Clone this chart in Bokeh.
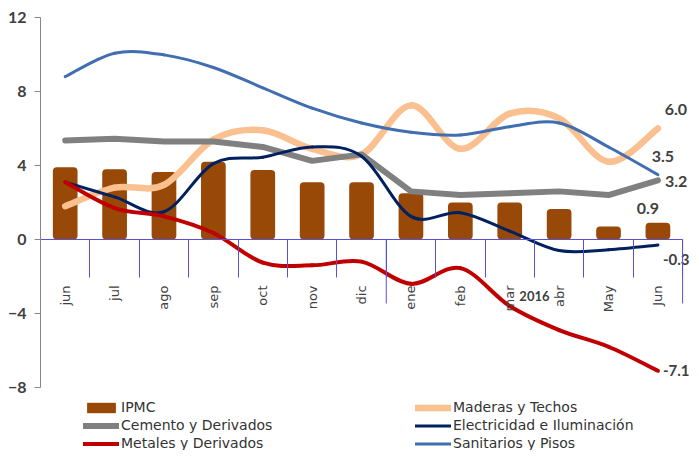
import math
from bokeh.plotting import figure
from bokeh.models import Range1d, FixedTicker, Legend, LegendItem, ColumnDataSource
from bokeh.core.properties import value
from bokeh.embed import file_html
from bokeh.resources import INLINE

# ---------------- data ----------------
months = ["jun", "jul", "ago", "sep", "oct", "nov", "dic",
          "ene", "feb", "mar", "abr", "May", "Jun"]
group_label = "2016"
group_start = 7  # index of "ene", first month of 2016

ipmc = [3.9, 3.8, 3.65, 4.2, 3.75, 3.1, 3.1, 2.5, 2.0, 2.0, 1.65, 0.7, 0.9]
maderas = [1.8, 2.8, 2.95, 5.4, 5.9, 4.9, 4.6, 7.25, 4.9, 6.8, 6.55, 4.2, 6.0]
cemento = [5.35, 5.45, 5.3, 5.3, 5.0, 4.25, 4.6, 2.6, 2.4, 2.5, 2.6, 2.4, 3.2]
electricidad = [3.1, 2.3, 1.5, 4.1, 4.45, 5.0, 4.5, 1.25, 1.45, 0.45, -0.6, -0.55, -0.3]
metales = [3.1, 1.7, 1.25, 0.35, -1.25, -1.4, -1.2, -2.4, -1.55, -3.6, -4.9, -5.8, -7.1]
sanitarios = [8.8, 10.07, 9.98, 9.3, 8.2, 7.1, 6.3, 5.8, 5.65, 6.1, 6.3, 5.0, 3.5]

y_ticks = [-8, -4, 0, 4, 8, 12]

# ---------------- styles ----------------
BAR = "#984807"
C_MAD = "#FAC090"
C_CEM = "#808080"
C_ELE = "#002060"
C_MET = "#C00000"
C_SAN = "#406EB0"
AXIS_BLUE = "#5B50D8"
AXIS_GRAY = "#868686"
TXT = "#404040"

n = len(months)
xs = list(range(n))


def smooth_source(ys):
    """Bezier segments (Excel-like smoothed line) whose control points come from the data."""
    d = dict(x0=[], y0=[], x1=[], y1=[], cx0=[], cy0=[], cx1=[], cy1=[])
    for i in range(n - 1):
        a = max(i - 1, 0)
        b = min(i + 2, n - 1)
        d["x0"].append(xs[i]); d["y0"].append(ys[i])
        d["x1"].append(xs[i + 1]); d["y1"].append(ys[i + 1])
        d["cx0"].append(xs[i] + (xs[i + 1] - xs[a]) / 6.0)
        d["cy0"].append(ys[i] + (ys[i + 1] - ys[a]) / 6.0)
        d["cx1"].append(xs[i + 1] - (xs[b] - xs[i]) / 6.0)
        d["cy1"].append(ys[i + 1] - (ys[b] - ys[i]) / 6.0)
    return ColumnDataSource(d)


p = figure(width=691, height=450, output_backend="svg", toolbar_location=None,
           x_range=Range1d(-0.5, 12.68), y_range=Range1d(-11.41, 12.92),
           min_border_left=40, min_border_right=0, min_border_top=0, min_border_bottom=0,
           outline_line_color=None, background_fill_color="white")
p.grid.visible = False

# bars
r_ipmc = p.vbar(x=xs, top=ipmc, bottom=0, width=0.5, fill_color=BAR, line_color=None,
                border_radius=4)

# smoothed lines
def add_curve(ys, color, w):
    return p.bezier(x0="x0", y0="y0", x1="x1", y1="y1", cx0="cx0", cy0="cy0",
                    cx1="cx1", cy1="cy1", source=smooth_source(ys),
                    line_color=color, line_width=w, line_cap="round")

r_mad = add_curve(maderas, C_MAD, 6.5)
r_cem = p.line(x=xs, y=cemento, line_color=C_CEM, line_width=6, line_join="round",
               line_cap="round")
r_ele = add_curve(electricidad, C_ELE, 3)
r_met = add_curve(metales, C_MET, 4)
r_san = add_curve(sanitarios, C_SAN, 3)

# x axis at y = 0
xa = p.xaxis[0]
xa.fixed_location = 0
xa.bounds = (-0.5, n - 0.5)
xa.ticker = FixedTicker(ticks=xs, minor_ticks=[i - 0.5 for i in range(n + 1)])
xa.major_label_overrides = {i: m for i, m in enumerate(months)}
xa.major_tick_line_color = None
xa.minor_tick_in = 0
xa.minor_tick_out = 38
xa.minor_tick_line_color = AXIS_BLUE
xa.axis_line_color = AXIS_BLUE
xa.major_label_orientation = math.pi / 2
xa.major_label_standoff = 8
xa.major_label_text_font = "DejaVu Sans"
xa.major_label_text_font_size = "13px"
xa.major_label_text_color = TXT

# group separators and group label
gb = [-0.5, group_start - 0.5, n - 0.5]
p.segment(x0=gb, y0=[0] * 3, x1=gb, y1=[-3.46] * 3, line_color=AXIS_BLUE, line_width=1)
p.text(x=[(group_start - 0.5 + n - 0.5) / 2], y=[-3.08], text=[group_label],
       text_font=value("Lato"), text_font_style="bold", text_font_size="13px",
       text_color=TXT, text_align="center", text_baseline="middle")

# y axis
ya = p.yaxis[0]
ya.bounds = (-8, 12)
ya.ticker = FixedTicker(ticks=y_ticks, minor_ticks=[])
ya.axis_line_color = AXIS_GRAY
ya.major_tick_line_color = AXIS_GRAY
ya.major_tick_in = 0
ya.major_tick_out = 6
ya.major_label_standoff = 8
ya.major_label_text_font = "Lato"
ya.major_label_text_font_style = "bold"
ya.major_label_text_font_size = "16px"
ya.major_label_text_color = TXT

# end-of-series labels
labels = [
    (maderas[-1], 18, -19, "center", "16px"),
    (sanitarios[-1], 5, -18, "center", "16px"),
    (cemento[-1], 7, 1, "left", "16px"),
    (ipmc[-1], -10, -14, "center", "16px"),
    (electricidad[-1], 5, 14, "left", "15px"),
    (metales[-1], 5, 0, "left", "15px"),
]
for v, dx, dy, al, fs in labels:
    p.text(x=[n - 1], y=[v], text=[f"{v:.1f}"], x_offset=dx, y_offset=dy,
           text_font=value("Lato"), text_font_style="bold", text_font_size=fs,
           text_color=TXT, text_align=al, text_baseline="middle")

# legends
def make_legend(items, loc):
    lg = Legend(items=[LegendItem(label=l, renderers=[r]) for l, r in items],
                location=loc, orientation="vertical", padding=0, margin=0, spacing=2,
                glyph_width=36, glyph_height=13, label_height=16, label_standoff=2,
                label_text_font="DejaVu Sans", label_text_font_size="14px",
                label_text_color="#333333", background_fill_alpha=0,
                border_line_alpha=0)
    p.add_layout(lg)

make_legend([("IPMC", r_ipmc), ("Cemento y Derivados", r_cem),
             ("Metales y Derivados", r_met)], (43, -1))
make_legend([("Maderas y Techos", r_mad), ("Electricidad e Iluminación", r_ele),
             ("Sanitarios y Pisos", r_san)], (375, -1))

open("out.html", "w").write(file_html(p, INLINE))
